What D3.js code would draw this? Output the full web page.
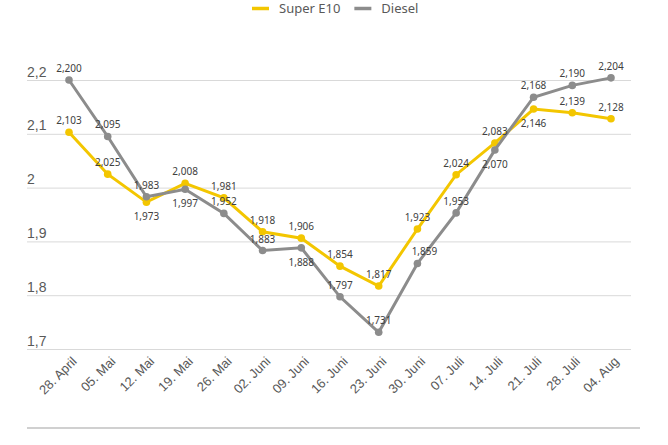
<!DOCTYPE html>
<html>
<head>
<meta charset="utf-8">
<script src="https://cdn.jsdelivr.net/npm/d3@7"></script>
<style>
  html, body { margin: 0; padding: 0; background: #fff; }
  svg { display: block; font-family: "Noto Sans", sans-serif; }
</style>
</head>
<body>
<svg id="chart" width="668" height="445"></svg>
<script>
const dates = ['28. April', '05. Mai', '12. Mai', '19. Mai', '26. Mai', '02. Juni', '09. Juni', '16. Juni',
    '23. Juni', '30. Juni', '07. Juli', '14. Juli', '21. Juli', '28. Juli', '04. Aug'];
const superE10 = [2.103, 2.025, 1.973, 2.008, 1.981, 1.918, 1.906, 1.854, 1.817, 1.923, 2.024, 2.083, 2.146, 2.139, 2.128];
const diesel = [2.200, 2.095, 1.983, 1.997, 1.952, 1.883, 1.888, 1.797, 1.731, 1.859, 1.953, 2.070, 2.168, 2.190, 2.204];
const yTicks = [1.7, 1.8, 1.9, 2.0, 2.1, 2.2];

// where each data label sits relative to its point: 'a' above, 'b' below, 'r' above and nudged right
const superLabelPos = ['a', 'a', 'b', 'a', 'a', 'a', 'a', 'a', 'a', 'a', 'a', 'a', 'b', 'a', 'a'];
const dieselLabelPos = ['a', 'a', 'a', 'b', 'a', 'a', 'b', 'a', 'a', 'r', 'a', 'b', 'a', 'a', 'a'];

const series = [
    {name: 'Super E10', values: superE10, labelPos: superLabelPos, color: '#f3c600'},
    {name: 'Diesel', values: diesel, labelPos: dieselLabelPos, color: '#8c8c8c'}
];

const de = d3.formatLocale({decimal: ',', thousands: '.', grouping: [3], currency: ['', ' €']});
const fmtTick = de.format('~f');
const fmtVal = de.format('.3f');

const svg = d3.select('#chart');

const x = d3.scalePoint().domain(dates).range([69, 611]);
const y = d3.scaleLinear().domain([1.7, 2.2]).range([349, 80]);

// gridlines + y labels
const yAxis = svg.append('g')
    .attr('transform', 'translate(27,0)')
    .call(d3.axisRight(y).tickValues(yTicks).tickSize(604).tickFormat(fmtTick));
yAxis.select('.domain').remove();
yAxis.selectAll('.tick line').attr('stroke', '#d9d9d9').attr('stroke-width', 1);
yAxis.selectAll('.tick text')
    .attr('x', 0)
    .attr('dy', -4)
    .attr('text-anchor', 'start')
    .attr('fill', '#595959')
    .style('font-size', '14px');

// x labels
const xAxis = svg.append('g')
    .attr('transform', 'translate(0,349)')
    .call(d3.axisBottom(x).tickSize(0));
xAxis.select('.domain').remove();
xAxis.selectAll('.tick text')
    .attr('fill', '#595959')
    .style('font-size', '13px')
    .attr('text-anchor', 'end')
    .attr('dy', 0)
    .attr('transform', 'translate(6,11) rotate(-45)');

// bottom rule
svg.append('line')
    .attr('x1', 27).attr('x2', 640)
    .attr('y1', 428).attr('y2', 428)
    .attr('stroke', '#d0d0d0').attr('stroke-width', 2);

const line = d3.line().x((d, i) => x(dates[i])).y(d => y(d));

series.forEach(s => {
    const g = svg.append('g');
    g.append('path')
        .datum(s.values)
        .attr('d', line)
        .attr('fill', 'none')
        .attr('stroke', s.color)
        .attr('stroke-width', 3);
    g.selectAll('circle')
        .data(s.values)
        .enter()
        .append('circle')
        .attr('cx', (d, i) => x(dates[i]))
        .attr('cy', d => y(d))
        .attr('r', 3.8)
        .attr('fill', s.color);
});

series.forEach(s => {
    svg.append('g')
        .selectAll('text')
        .data(s.values)
        .enter()
        .append('text')
        .attr('x', (d, i) => x(dates[i]) + (s.labelPos[i] === 'r' ? 7 : 0))
        .attr('y', (d, i) => s.labelPos[i] === 'b' ? y(d) + 18 : y(d) - 8)
        .attr('text-anchor', 'middle')
        .attr('fill', '#404040')
        .style('font-size', '10px')
        .text(d => fmtVal(d));
});

// legend
const legend = svg.append('g').attr('transform', 'translate(252,8.5)');
let lx = 0;
series.forEach(s => {
    legend.append('line')
        .attr('x1', lx).attr('x2', lx + 17)
        .attr('stroke', s.color).attr('stroke-width', 3.5);
    const t = legend.append('text')
        .attr('x', lx + 27)
        .attr('dy', '0.35em')
        .attr('fill', '#595959')
        .style('font-size', '13px')
        .text(s.name);
    lx += 27 + t.node().getComputedTextLength() + 14;
});
</script>
</body>
</html>
